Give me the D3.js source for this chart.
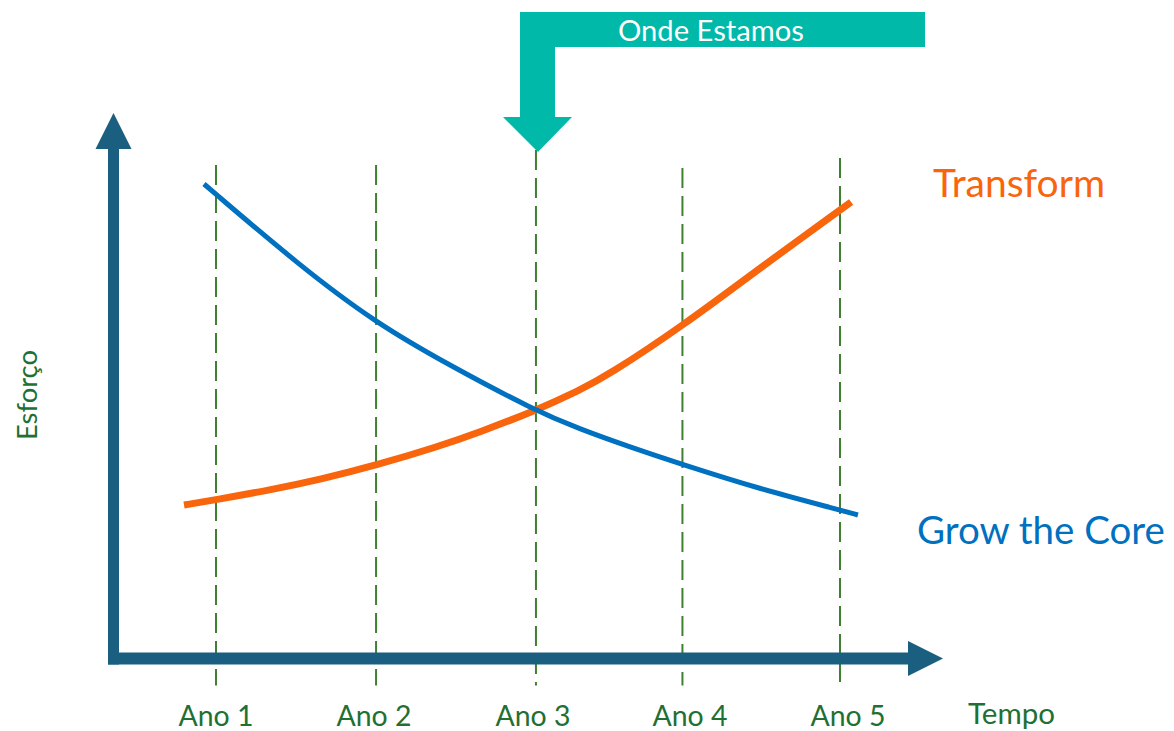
<!DOCTYPE html>
<html>
<head>
<meta charset="utf-8">
<script src="https://cdn.jsdelivr.net/npm/d3@7/dist/d3.min.js"></script>
<style>
  html, body { margin: 0; padding: 0; background: #ffffff; }
  svg { display: block; }
  text { font-family: Lato, "Open Sans", sans-serif; }
</style>
</head>
<body>
<svg id="chart" width="1174" height="731"></svg>
<script>
// ---- data ----
const yearLabels = ["Ano 1", "Ano 2", "Ano 3", "Ano 4", "Ano 5"];
const yearLinePos = [1, 2.026, 3.051, 3.99, 5];      // dashed guide positions (time units)
const yearLabelPos = [1, 2.013, 3.032, 4.038, 5.051];
const yearLineTop = [98.6, 98.6, 101.6, 98.0, 100.0]; // effort units where each guide starts

const growT = [0.923, 1.538, 2.026, 2.481, 3.051, 3.333, 3.635, 4.0, 4.487, 5.0, 5.115];
const growV = [94.8, 78.4, 67.0, 58.8, 49.4, 45.8, 42.4, 38.6, 33.8, 29.6, 28.6];

const transT = [0.795, 1.006, 1.346, 1.667, 2.032, 2.417, 2.692, 3.051, 3.333, 3.506, 4.0, 4.487, 5.0, 5.071];
const transV = [30.6, 31.7, 33.6, 35.7, 38.6, 42.2, 45.2, 49.5, 53.6, 56.4, 66.6, 78.0, 89.6, 91.2];

const seriesNames = ["Transform", "Grow the Core"];
const axisTitles = { x: "Tempo", y: "Esforço" };
const bannerText = "Onde Estamos";

// ---- scales ----
const svg = d3.select("#chart");
const x = d3.scaleLinear().domain([1, 5]).range([216, 840]);
const y = d3.scaleLinear().domain([0, 100]).range([658, 158]);

const axisColor = "#1a5e80";
const green = "#3f8130";
const textGreen = "#1f7032";
const blue = "#0070c0";
const orange = "#f8650c";
const teal = "#00b9a8";

// fit text to a target width
function fit(sel, width) {
  sel.attr("font-size", 100);
  const w = sel.node().getComputedTextLength();
  sel.attr("font-size", 100 * width / w);
  return sel;
}

// ---- dashed year guides ----
svg.append("g").selectAll("line").data(yearLinePos).join("line")
  .attr("x1", d => x(d)).attr("x2", d => x(d))
  .attr("y1", (d, i) => y(yearLineTop[i]))
  .attr("y2", y(-5.5))
  .attr("stroke", green).attr("stroke-width", 2)
  .attr("stroke-dasharray", "20 8");

// ---- axes (arrows) ----
const ax = svg.append("g").attr("fill", axisColor);
const x0 = 113.5, yTop = 113, xEnd = 943, yAx = 658.5;
ax.append("rect").attr("x", x0 - 5.5).attr("y", 148).attr("width", 11).attr("height", yAx + 6 - 148);
ax.append("path").attr("d", `M${x0 - 18},149 L${x0 + 18},149 L${x0},${yTop} Z`);
ax.append("rect").attr("x", x0 - 5.5).attr("y", yAx - 6).attr("width", 909 - (x0 - 5.5)).attr("height", 12);
ax.append("path").attr("d", `M908,${yAx - 17.5} L908,${yAx + 17.5} L${xEnd},${yAx} Z`);

// ---- curves ----
const line = d3.line().x(d => x(d[0])).y(d => y(d[1])).curve(d3.curveBasis);
svg.append("path").datum(transT.map((t, i) => [t, transV[i]]))
  .attr("d", line).attr("fill", "none").attr("stroke", orange).attr("stroke-width", 7);
svg.append("path").datum(growT.map((t, i) => [t, growV[i]]))
  .attr("d", line).attr("fill", "none").attr("stroke", blue).attr("stroke-width", 5);

// ---- banner arrow ----
svg.append("path")
  .attr("d", "M520,12 L925,12 L925,47 L555,47 L555,117 L572,117 L538,152 L503,117 L520,117 Z")
  .attr("fill", teal);
fit(svg.append("text").attr("x", 618).attr("y", 41).attr("fill", "#ffffff").text(bannerText), 186);

// ---- labels ----
fit(svg.append("text").attr("x", 933).attr("y", 197).attr("fill", orange).text(seriesNames[0]), 172);
fit(svg.append("text").attr("x", 917).attr("y", 544).attr("fill", blue).text(seriesNames[1]), 248);

svg.append("g").selectAll("text").data(yearLabels).join("text")
  .attr("x", (d, i) => x(yearLabelPos[i])).attr("y", 726)
  .attr("text-anchor", "middle").attr("fill", textGreen)
  .text(d => d)
  .each(function() { fit(d3.select(this), 75); });

fit(svg.append("text").attr("x", 968).attr("y", 724).attr("fill", textGreen).text(axisTitles.x), 87);

fit(svg.append("text").attr("transform", "translate(37,395) rotate(-90)")
  .attr("text-anchor", "middle").attr("fill", textGreen).text(axisTitles.y), 90);
</script>
</body>
</html>
